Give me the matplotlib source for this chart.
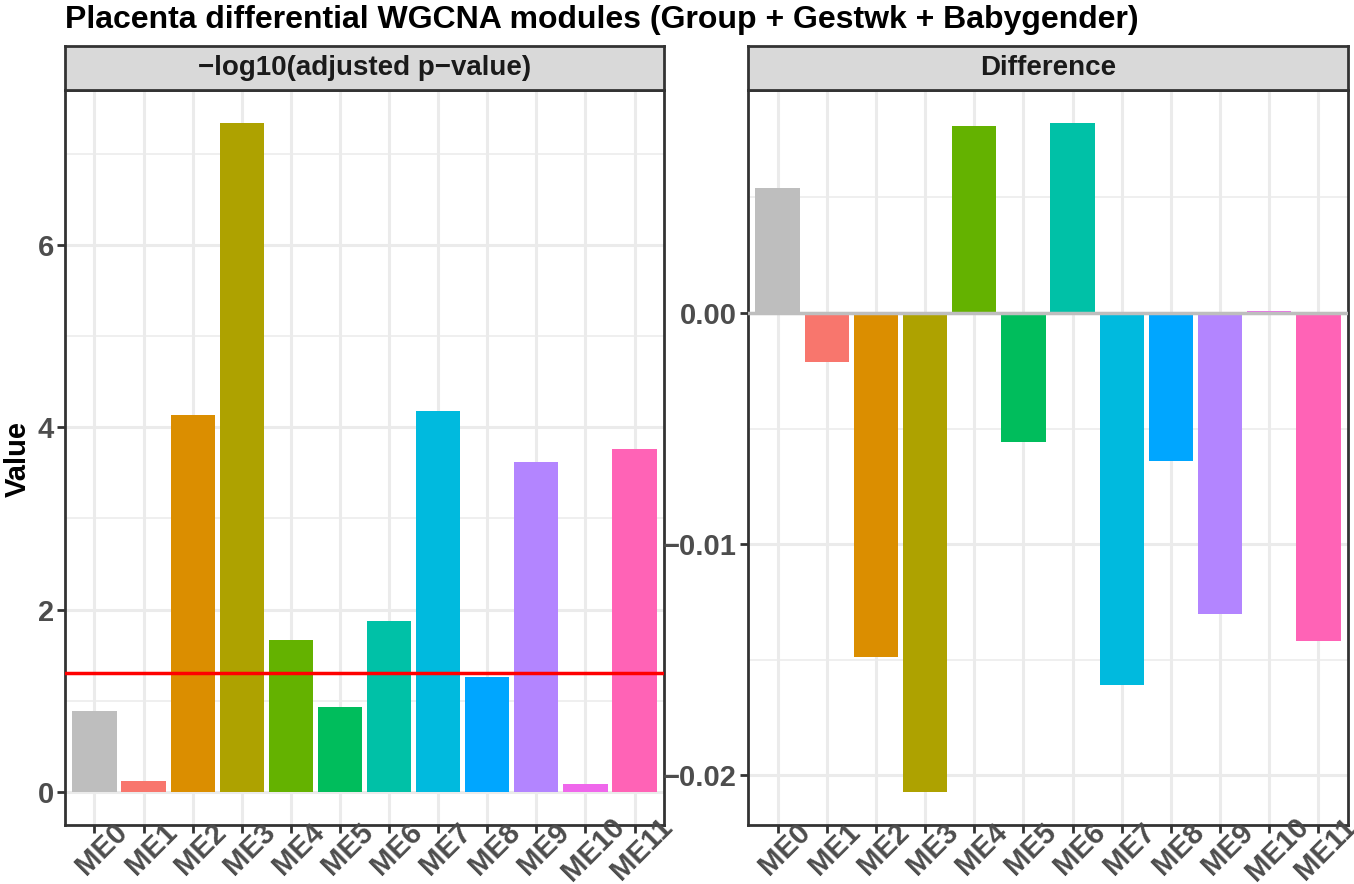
import numpy as np
import matplotlib.pyplot as plt
import matplotlib.transforms as mtransforms

plt.rcParams['font.family'] = ['Liberation Sans', 'DejaVu Sans']
plt.rcParams['font.weight'] = 'bold'

modules = ['ME0', 'ME1', 'ME2', 'ME3', 'ME4', 'ME5', 'ME6', 'ME7', 'ME8', 'ME9', 'ME10', 'ME11']
neglog_p = [0.88, 0.12, 4.14, 7.34, 1.67, 0.93, 1.87, 4.18, 1.26, 3.62, 0.08, 3.76]
difference = [0.0054, -0.0021, -0.0149, -0.0207, 0.0081, -0.0056, 0.0082, -0.0161, -0.0064, -0.0130, 0.0001, -0.0142]
bar_colors = ['#BEBEBE', '#F8766D', '#DB8E00', '#AEA200', '#64B200', '#00BD5C',
              '#00C1A7', '#00BADE', '#00A6FF', '#B385FF', '#EF67EB', '#FF63B6']
threshold = -np.log10(0.05)

W, H = 1354, 884
fig = plt.figure(figsize=(W / 100, H / 100), dpi=100)

def fx(px):
    return px / W

def fy(px):
    return 1 - px / H

panel_top, panel_bot = 90, 825
strip_top = 46
panels = [(65, 664, '\u2212log10(adjusted p\u2212value)'), (748, 1348, 'Difference')]

grey20 = '#333333'
gridc = '#EBEBEB'
tickc = '#4D4D4D'
tick_size = 21

axes = []
for x0, x1, label in panels:
    ax = fig.add_axes([fx(x0), fy(panel_bot), fx(x1 - x0), (panel_bot - panel_top) / H])
    sax = fig.add_axes([fx(x0), fy(panel_top), fx(x1 - x0), (panel_top - strip_top) / H])
    sax.set_facecolor('#D9D9D9')
    sax.set_xticks([])
    sax.set_yticks([])
    for s in sax.spines.values():
        s.set_color(grey20)
        s.set_linewidth(2)
    sax.text(0.5, 0.5, label, transform=sax.transAxes, ha='center', va='center',
             fontsize=20, fontweight='bold', color='#1A1A1A')
    for s in ax.spines.values():
        s.set_color(grey20)
        s.set_linewidth(2)
    ax.set_axisbelow(True)
    axes.append(ax)

x = np.arange(len(modules))

def style_axis(ax, ymin, ymax, major, minor):
    ax.set_xlim(-0.6, len(modules) - 0.4)
    ax.set_ylim(ymin, ymax)
    ax.set_xticks(x)
    ax.set_xticklabels([])
    ax.set_yticks(major)
    ax.set_yticks(minor, minor=True)
    ax.grid(True, which='major', color=gridc, linewidth=2.2)
    ax.grid(True, which='minor', axis='y', color=gridc, linewidth=1.1)
    ax.tick_params(axis='both', which='major', length=6, width=2, color=grey20,
                   labelsize=tick_size, labelcolor=tickc, pad=2)
    ax.tick_params(axis='y', which='minor', length=0)
    # rotated module labels, centred a little right of and below each tick
    trans = mtransforms.offset_copy(ax.get_xaxis_transform(), fig=fig,
                                    x=7.5, y=-24, units='dots')
    for xi, name in zip(x, modules):
        ax.text(xi, 0, name, transform=trans, rotation=45, rotation_mode='anchor',
                ha='center', va='center', fontsize=tick_size, fontweight='bold',
                color=tickc, clip_on=False)

ax1, ax2 = axes
ax1.bar(x, neglog_p, width=0.9, color=bar_colors, zorder=2)
ax1.axhline(threshold, color='#FF0000', linewidth=2.5, zorder=3)
span = max(neglog_p)
style_axis(ax1, -0.05 * span, span * 1.05, [0, 2, 4, 6], [1, 3, 5, 7])

ax2.bar(x, difference, width=0.9, color=bar_colors, zorder=2)
ax2.axhline(0, color='#BEBEBE', linewidth=2.5, zorder=3)
lo, hi = min(difference), max(difference)
pad = 0.05 * (hi - lo)
style_axis(ax2, lo - pad, hi + pad, [-0.02, -0.01, 0.0], [-0.015, -0.005, 0.005])
ax2.set_yticklabels(['\u22120.02', '\u22120.01', '0.00'])

for ax in axes:
    for t in ax.get_yticklabels():
        t.set_fontweight('bold')

fig.text(fx(65), fy(20), 'Placenta differential WGCNA modules (Group + Gestwk + Babygender)',
         ha='left', va='center', fontsize=23, fontweight='bold', color='black')
fig.text(fx(17.5), fy(459), 'Value', rotation=90,
         ha='center', va='center', fontsize=21, fontweight='bold', color='black')

fig.savefig('out.png', dpi=100)
